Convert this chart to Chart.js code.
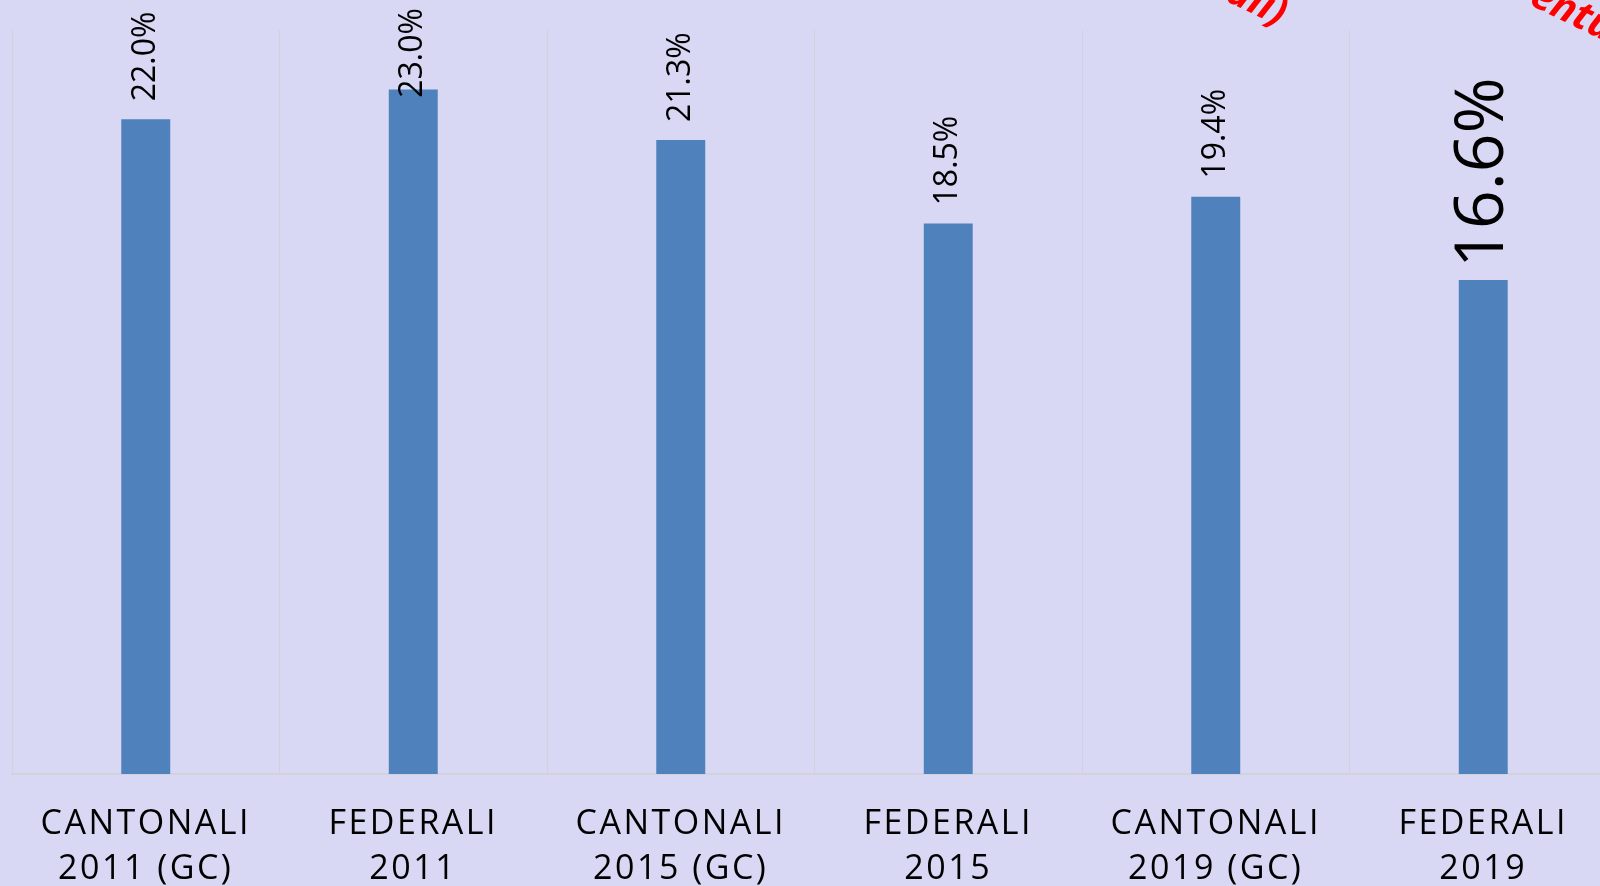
<!DOCTYPE html>
<html>
<head>
<meta charset="utf-8">
<script src="https://cdn.jsdelivr.net/npm/chart.js@4.4.1/dist/chart.umd.min.js"></script>
<style>
    html, body { margin: 0; padding: 0; overflow: hidden; background: #d8d8f4; }
    #wrap { width: 1620px; height: 886px; position: relative; }
</style>
</head>
<body>
<div id="wrap"><canvas id="turnoutChart"></canvas></div>
<script>
// Data
const categories = [
    ['CANTONALI', '2011 (GC)'],
    ['FEDERALI', '2011'],
    ['CANTONALI', '2015 (GC)'],
    ['FEDERALI', '2015'],
    ['CANTONALI', '2019 (GC)'],
    ['FEDERALI', '2019']
];
const values = [22.0, 23.0, 21.3, 18.5, 19.4, 16.6];
const valueLabels = ['22.0%', '23.0%', '21.3%', '18.5%', '19.4%', '16.6%'];

// Rotated value labels above each bar (last one drawn bigger, as in the slide)
const barLabels = {
    id: 'barLabels',
    beforeDraw(chart) {
        // spaced capitals for the category labels
        chart.ctx.letterSpacing = '2.5px';
    },
    afterDatasetsDraw(chart) {
        const ctx = chart.ctx;
        ctx.letterSpacing = '0px';
        const bars = chart.getDatasetMeta(0).data;
        bars.forEach(function (bar, i) {
            const big = i === bars.length - 1;
            const size = big ? 68 : 32;
            const gap = big ? 12 : 18;
            ctx.save();
            ctx.font = size + 'px "Open Sans"';
            ctx.fillStyle = '#000';
            const w = ctx.measureText(valueLabels[i]).width;
            let start = bar.y - gap;
            if (start - w < 8) start = 8 + w;
            ctx.translate(bar.x, start);
            ctx.rotate(-Math.PI / 2);
            ctx.textAlign = 'left';
            ctx.textBaseline = 'middle';
            ctx.fillText(valueLabels[i], 0, 0);
            ctx.restore();
        });
    },
    afterDraw(chart) {
        // pieces of the red slide title that reach into the picture
        const ctx = chart.ctx;
        ctx.save();
        ctx.font = 'italic bold 40px "Open Sans"';
        ctx.fillStyle = '#ff0000';
        ctx.translate(1224, 0);
        ctx.rotate(0.45);
        ctx.fillText('ali)', 0, 0);
        ctx.restore();
        ctx.save();
        ctx.font = 'italic bold 40px "Open Sans"';
        ctx.fillStyle = '#ff0000';
        ctx.translate(1528, 4);
        ctx.rotate(0.45);
        ctx.fillText('entu', 0, 0);
        ctx.restore();
    }
};

new Chart(document.getElementById('turnoutChart'), {
    type: 'bar',
    data: {
        labels: categories,
        datasets: [{
            data: values,
            backgroundColor: '#4f81bd',
            borderWidth: 0,
            barPercentage: 0.183,
            categoryPercentage: 1
        }]
    },
    options: {
        responsive: true,
        maintainAspectRatio: false,
        animation: false,
        layout: { padding: { left: 12, right: 3, top: 30, bottom: -34 } },
        plugins: {
            legend: { display: false },
            tooltip: { enabled: false }
        },
        scales: {
            x: {
                offset: true,
                grid: {
                    display: true,
                    offset: true,
                    drawTicks: false,
                    color: '#d2d2dc',
                    lineWidth: 1
                },
                border: { display: true, color: '#d2d2dc', width: 2 },
                ticks: {
                    padding: 28,
                    color: '#000',
                    maxRotation: 0,
                    font: { family: '"Open Sans"', size: 34, lineHeight: '45px' }
                }
            },
            y: {
                display: false,
                min: 0,
                max: 25
            }
        }
    },
    plugins: [barLabels]
});
</script>
</body>
</html>
